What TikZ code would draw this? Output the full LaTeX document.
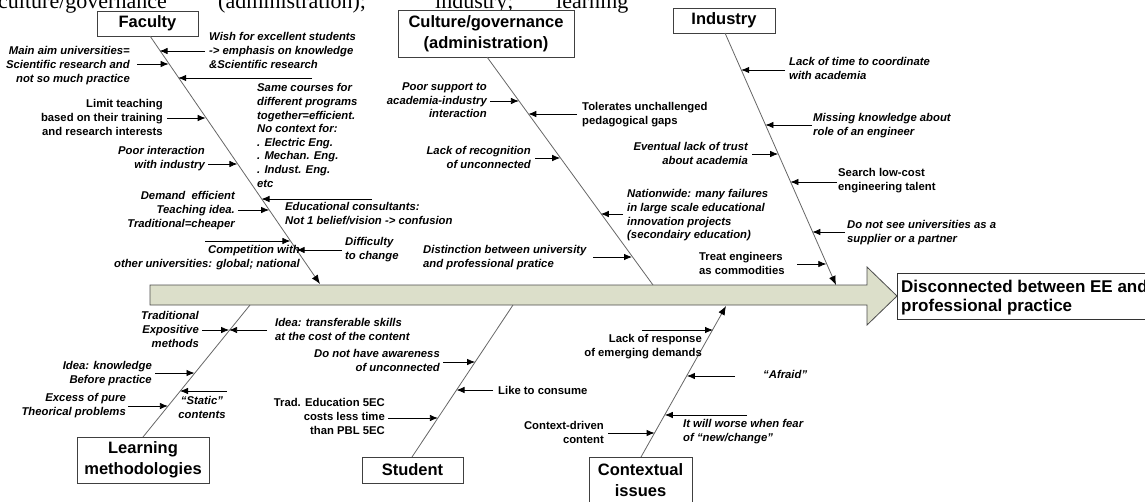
\documentclass[tikz,border=0pt]{standalone}
\usepackage{fontspec}
\setmainfont{Liberation Sans}
\newfontfamily\tnr{Liberation Serif}
\usetikzlibrary{arrows.meta,calc}
\definecolor{spinefill}{HTML}{DCDFCA}
\newcommand\causearrow[4]{%
  \coordinate (#1-s) at (#2,#4);
  \coordinate (#1-t) at (#3,#4);
  \draw[cause] (#1-s) -- (#1-t);}
\begin{document}
\begin{tikzpicture}[x=1pt,y=-1pt,
  boxn/.style={draw=black!75,line width=0.9pt,fill=white,inner sep=0pt,align=center,
    font=\bfseries\fontsize{16.5}{20.5}\selectfont},
  lab/.style={inner sep=0pt,font=\bfseries\itshape\fontsize{11.3}{13.6}\selectfont},
  labu/.style={inner sep=0pt,font=\bfseries\fontsize{11.3}{13.6}\selectfont},
  bone/.style={draw=black!60,line width=0.8pt},
  bonearr/.style={bone,-{Latex[length=9pt,width=7pt,color=black]}},
  cause/.style={draw=black,line width=0.8pt,-{Latex[length=8pt,width=6.5pt]}},
  toptext/.style={inner sep=0pt,anchor=base west,font=\tnr\fontsize{22}{26}\selectfont}
]
\useasboundingbox (0,0) rectangle (1145,501);
\clip (0,0) rectangle (1145,501);

% clipped text line at the top
\node[toptext] (t1) at (-2,8) {culture/governance};
\node[toptext] (t2) at (218,8) {(administration);};
\node[toptext] (t3) at (435,8) {industry;};
\node[toptext] (t4) at (556,8) {learning};

% spine
\draw[draw=black!70,line width=0.8pt,fill=spinefill]
  (150,285) -- (867,285) -- (867,267) -- (897,296) -- (867,325) -- (867,305) -- (150,305) -- cycle;
\coordinate (spinetip) at (897,296);

% effect box
\node[draw=black!80,line width=0.9pt,minimum width=270pt,minimum height=46pt,inner sep=0pt,anchor=west] (effect) at (spinetip) {};
\node[inner sep=0pt,anchor=north west,align=left,font=\bfseries\fontsize{17}{19}\selectfont] (effecttext) at (901,280) {Disconnected between EE and\\professional practice};

% category boxes
\node[boxn,minimum width=101pt,minimum height=25pt] (fac) at (147.5,23.5) {Faculty};
\node[boxn,minimum width=176pt,minimum height=47pt] (cul) at (486,33.5) {Culture/governance\\(administration)};
\node[boxn,minimum width=102pt,minimum height=25pt] (ind) at (724,20.5) {Industry};
\node[boxn,minimum width=132pt,minimum height=46pt] (lea) at (143,460) {Learning\\methodologies};
\node[boxn,minimum width=101pt,minimum height=26pt] (stu) at (412.5,470) {Student};
\node[boxn,minimum width=103pt,minimum height=46pt] (con) at (640.5,480) {Contextual\\issues};

% bones
\coordinate (fA) at (150,36);  \coordinate (fB) at (320,284);
\coordinate (cA) at (487,57);  \coordinate (cB) at (653,285);
\coordinate (iA) at (725,33);  \coordinate (iB) at (836,285);
\coordinate (lA) at (143,437); \coordinate (lB) at (250,305);
\coordinate (sA) at (412,457); \coordinate (sB) at (513,305);
\coordinate (xA) at (641,457); \coordinate (xB) at (726,306);
\draw[bonearr] (fA) -- (fB);
\draw[bone] (cA) -- (cB);
\draw[bonearr] (iA) -- (iB);
\draw[bone] (lA) -- (lB);
\draw[bone] (sA) -- (sB);
\draw[bonearr] (xA) -- (xB);

% ---- Faculty causes
\node[lab,align=left,anchor=north west] (f1) at (209,32.5) {Wish for excellent students\\-> emphasis on knowledge\\\&Scientific research};
\causearrow{f1a}{205}{159.6}{51}
\node[lab,align=right,anchor=north east] (f2) at (130,46.5) {Main aim universities=\\Scientific research and\\not so much practice};
\causearrow{f2a}{137}{168.6}{64}
\node[lab,align=left,anchor=north west] (f3) at (257,83.5) {Same courses for\\different programs\\together=efficient.\\No context for:\\. Electric Eng.\\. Mechan. Eng.\\. Indust. Eng.\\etc};
\causearrow{f3a}{312}{178.2}{78}
\node[labu,align=right,anchor=north east] (f4) at (163,99.5) {Limit teaching\\based on their training\\and research interests};
\causearrow{f4a}{167}{205.7}{118}
\node[lab,align=right,anchor=north east] (f5) at (205,146.5) {Poor interaction\\with industry};
\causearrow{f5a}{208}{237.4}{164}
\node[lab,align=left,anchor=north west] (f6) at (285,202.5) {Educational consultants:\\Not 1 belief/vision -> confusion};
\causearrow{f6a}{372}{261.5}{199}
\node[lab,align=right,anchor=north east] (f7) at (235,191.5) {Demand\ \ efficient\\Teaching idea.\\Traditional=cheaper};
\causearrow{f7a}{238}{269.1}{210}
\causearrow{f8a}{205}{290.4}{241}
\node[lab,align=right,anchor=north east] (f8) at (300,245.5) {Competition with\\other universities: global; national};
\node[lab,align=left,anchor=north west] (f9) at (345,237.5) {Difficulty\\to change};
\causearrow{f9a}{342}{296.6}{250}

% ---- Culture causes
\node[lab,align=right,anchor=north east] (c1) at (487,82.5) {Poor support to\\academia-industry\\interaction};
\causearrow{c1a}{490}{518.9}{101}
\node[labu,align=left,anchor=north west] (c2) at (582,102.5) {Tolerates unchallenged\\pedagogical gaps};
\causearrow{c2a}{577}{528.3}{114}
\node[lab,align=right,anchor=north east] (c3) at (531,146.5) {Lack of recognition\\of unconnected};
\causearrow{c3a}{535}{560.2}{158}
\node[lab,align=left,anchor=north west] (c4) at (627,189.5) {Nationwide: many failures\\in large scale educational\\innovation projects\\(secondairy education)};
\causearrow{c4a}{623}{600.8}{214}
\node[lab,align=left,anchor=north west] (c5) at (423,245.5) {Distinction between university\\and professional pratice};
\causearrow{c5a}{593}{632}{257}

% ---- Industry causes
\node[lab,align=left,anchor=north west] (i1) at (789,57.5) {Lack of time to coordinate\\with academia};
\causearrow{i1a}{785}{741.2}{70}
\node[lab,align=left,anchor=north west] (i2) at (813,113.5) {Missing knowledge about\\role of an engineer};
\causearrow{i2a}{812}{765.4}{125}
\node[lab,align=right,anchor=north east] (i3) at (748,142.5) {Eventual lack of trust\\about academia};
\causearrow{i3a}{752}{778.1}{154}
\node[labu,align=left,anchor=north west] (i4) at (838,168.5) {Search low-cost\\engineering talent};
\causearrow{i4a}{837}{790.4}{182}
\node[lab,align=left,anchor=north west] (i5) at (847,220.5) {Do not see universities as a\\supplier or a partner};
\causearrow{i5a}{845}{812.3}{232}
\node[labu,align=left,anchor=north west] (i6) at (699,252.5) {Treat engineers\\as commodities};
\causearrow{i6a}{797}{826.3}{264}

% ---- Learning methodologies causes
\node[lab,align=right,anchor=north east] (l1) at (199,311.5) {Traditional\\Expositive\\methods};
\causearrow{l1a}{202}{229.1}{330}
\node[lab,align=left,anchor=north west] (l2) at (275,318.5) {Idea: transferable skills\\at the cost of the content};
\causearrow{l2a}{267}{229.1}{330}
\node[lab,align=right,anchor=north east] (l3) at (152,361.5) {Idea: knowledge\\Before practice};
\causearrow{l3a}{155}{194.5}{373}
\node[lab,align=center,anchor=north] (l4) at (202,396.5) {“Static”\\contents};
\causearrow{l4a}{227}{180}{391}
\node[lab,align=right,anchor=north east] (l5) at (126,393.5) {Excess of pure\\Theorical problems};
\causearrow{l5a}{128}{167.9}{406}

% ---- Student causes
\node[lab,align=right,anchor=north east] (s1) at (440,349.5) {Do not have awareness\\of unconnected};
\causearrow{s1a}{443}{475.1}{362}
\node[labu,align=left,anchor=north west] (s2) at (498,386.5) {Like to consume};
\causearrow{s2a}{493}{456.5}{390}
\node[labu,align=right,anchor=north east] (s3) at (385,398.5) {Trad. Education 5EC\\costs less time\\than PBL 5EC};
\causearrow{s3a}{388}{437.9}{418}

% ---- Contextual causes
\causearrow{x1a}{642}{713}{330}
\node[labu,align=right,anchor=north east] (x1) at (702,334.5) {Lack of response\\of emerging demands};
\node[lab,align=left,anchor=north west] (x2) at (763,370.5) {“Afraid”};
\causearrow{x2a}{735}{686.9}{376}
\node[lab,align=left,anchor=north west] (x3) at (683,419.5) {It will worse when fear\\of “new/change”};
\causearrow{x3a}{747}{664.8}{415}
\node[labu,align=right,anchor=north east] (x4) at (604,421.5) {Context-driven\\content};
\causearrow{x4a}{608}{654.6}{433}
\end{tikzpicture}
\end{document}
